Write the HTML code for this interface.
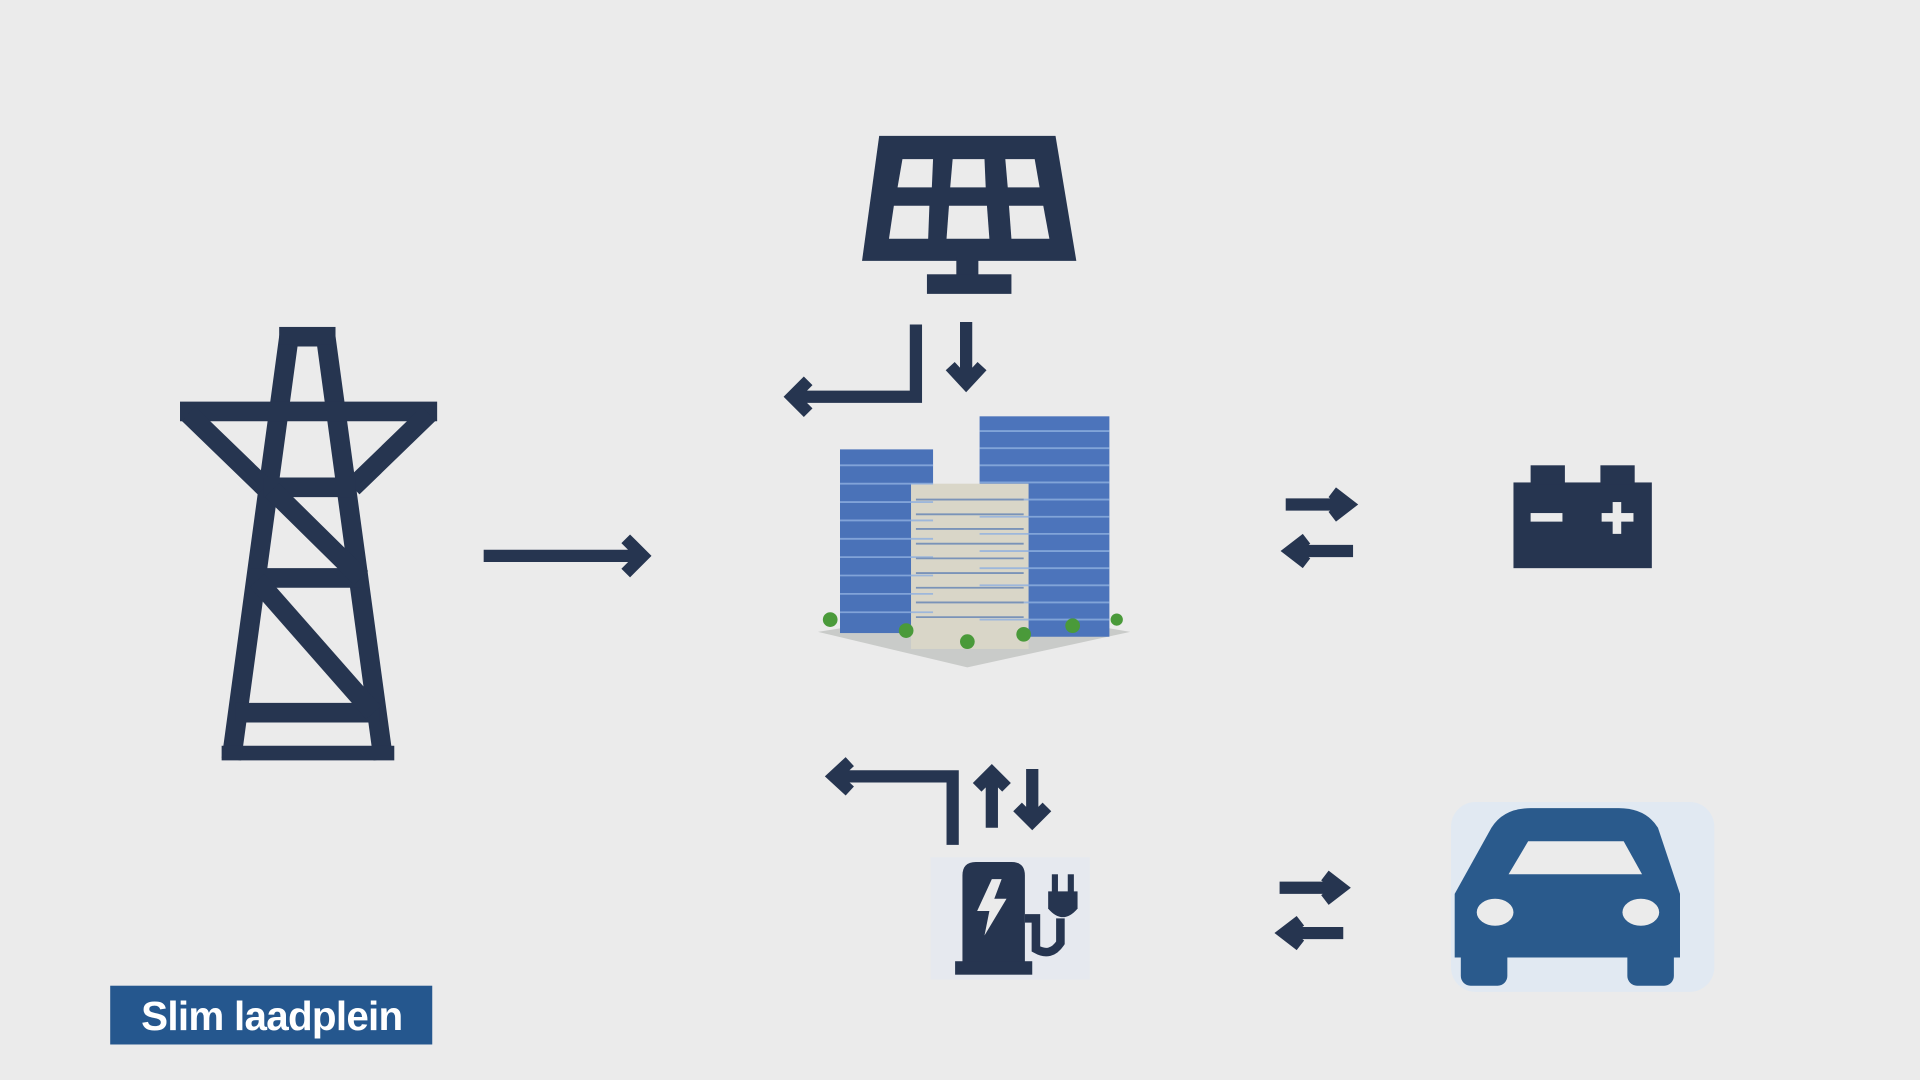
<!DOCTYPE html>
<html><head><style>html,body{margin:0;padding:0;background:#ebebeb;overflow:hidden}svg{display:block}</style></head>
<body>
<svg width="1920" height="1080" viewBox="0 0 1568 882" xmlns="http://www.w3.org/2000/svg">
<rect width="1568" height="882" fill="#ebebeb"/>
<g stroke="#263550" fill="none" stroke-width="16" stroke-linejoin="miter">
<!-- pylon -->
<path d="M236 275 H266 L313 620 M236 275 L189 620"/>
<rect x="228" y="267" width="46" height="14" fill="#263550" stroke="none"/>
<path d="M147 336 H357"/>
<path d="M154 338 L216 398 M350 338 L288 398"/>
<path d="M215 398 H290 M205 472 H299 M192 582 H310"/>
<path d="M222 400 L295 472 M210 474 L305 582"/>
<path d="M181 615 H322" stroke-width="12"/>
</g>
<g stroke="#263550" fill="none" stroke-width="10">
<path d="M395 454 H524 M511 440 L525 454 L511 468"/>
<path d="M748 265 V324 H650 M660 311 L647 324 L660 337"/>
<path d="M789 263 V311 M776 299 L789 313 L802 299"/>
<path d="M1050 412 H1100 M1088 402 L1101 412 L1088 422 M1105 450 H1055 M1067 440 L1054 450 L1067 460"/>
<path d="M1045 725 H1094 M1082 715 L1095 725 L1082 735 M1097 762 H1050 M1062 752 L1049 762 L1062 772"/>
<path d="M778 690 V634 H684 M694 622 L681 634 L694 646"/>
<path d="M810 676 V632 M798 643 L810 631 L822 643 M843 628 V670 M831 659 L843 671 L855 659"/>
</g>
<!-- solar -->
<path d="M718 111 H862 L879 213 H704 Z" fill="#263550"/>
<g fill="#ebebeb">
<path d="M737 130 H762 L761 153 H733 Z"/><path d="M778 130 H804 L805 153 H776 Z"/><path d="M821 130 H845 L849 153 H823 Z"/>
<path d="M730 168 H759 L758 195 H726 Z"/><path d="M775 168 H806 L808 195 H773 Z"/><path d="M824 168 H852 L857 195 H826 Z"/>
</g>
<rect x="781" y="210" width="18" height="18" fill="#263550"/>
<rect x="757" y="224" width="69" height="16" fill="#263550"/>
<!-- buildings -->
<path d="M668 516 L790 545 L923 516 L800 495 Z" fill="#c9cbc9"/>
<rect x="686" y="367" width="76" height="150" fill="#4a72b8"/>
<rect x="800" y="340" width="106" height="180" fill="#4c74bb"/>
<rect x="744" y="395" width="96" height="135" fill="#d9d6c8"/>
<g stroke="#8fb0e0" stroke-width="1.5" opacity="0.8">
<path d="M686 380H762M686 395H762M686 410H762M686 425H762M686 440H762M686 455H762M686 470H762M686 485H762M686 500H762"/>
<path d="M800 352H906M800 366H906M800 380H906M800 394H906M800 408H906M800 422H906M800 436H906M800 450H906M800 464H906M800 478H906M800 492H906M800 506H906"/>
</g>
<g stroke="#7a93b8" stroke-width="1.5"><path d="M748 408H836M748 420H836M748 432H836M748 444H836M748 456H836M748 468H836M748 480H836M748 492H836M748 504H836"/></g>
<g fill="#4a9a3a"><circle cx="678" cy="506" r="6"/><circle cx="740" cy="515" r="6"/><circle cx="790" cy="524" r="6"/><circle cx="836" cy="518" r="6"/><circle cx="876" cy="511" r="6"/><circle cx="912" cy="506" r="5"/></g>
<!-- battery -->
<rect x="1236" y="394" width="113" height="70" fill="#263550"/>
<rect x="1250" y="380" width="28" height="16" fill="#263550"/>
<rect x="1307" y="380" width="28" height="16" fill="#263550"/>
<rect x="1250" y="419" width="26" height="7" fill="#ebebeb"/>
<rect x="1308" y="419" width="26" height="7" fill="#ebebeb"/><rect x="1317" y="410" width="7" height="26" fill="#ebebeb"/>
<!-- charger -->
<rect x="760" y="700" width="130" height="100" fill="#e6e9ef"/>
<path d="M786 715 Q786 704 797 704 H826 Q837 704 837 715 V788 H786 Z" fill="#263550"/>
<rect x="780" y="785" width="63" height="11" fill="#263550"/>
<path d="M810 718 L798 744 H808 L804 764 L822 734 H812 L818 718 Z" fill="#ebebeb"/>
<path d="M837 750 H846 V775 Q858 782 866 770 V750" stroke="#263550" stroke-width="7" fill="none"/>
<path d="M856 728 H880 V742 Q868 756 856 742 Z" fill="#263550"/>
<rect x="859" y="714" width="5" height="16" fill="#263550"/><rect x="872" y="714" width="5" height="16" fill="#263550"/>
<!-- car -->
<rect x="1185" y="655" width="215" height="155" rx="20" fill="#dde8f5" opacity="0.7"/>
<path d="M1188 730 L1218 676 Q1228 660 1250 660 H1322 Q1344 660 1354 676 L1372 730 V782 H1188 Z" fill="#2a5a8c"/>
<path d="M1232 714 L1248 687 H1326 L1341 714 Z" fill="#ebebeb"/>
<ellipse cx="1221" cy="745" rx="15" ry="11" fill="#ebebeb"/>
<ellipse cx="1340" cy="745" rx="15" ry="11" fill="#ebebeb"/>
<rect x="1193" y="770" width="38" height="35" rx="8" fill="#2a5a8c"/>
<rect x="1329" y="770" width="38" height="35" rx="8" fill="#2a5a8c"/>
<!-- label -->
<rect x="90" y="805" width="263" height="48" fill="#25578e"/>
<text x="222" y="841" text-anchor="middle" font-family="Liberation Sans, sans-serif" font-weight="bold" font-size="33" fill="#fff" letter-spacing="-0.6">Slim laadplein</text>
</svg>
</body></html>
